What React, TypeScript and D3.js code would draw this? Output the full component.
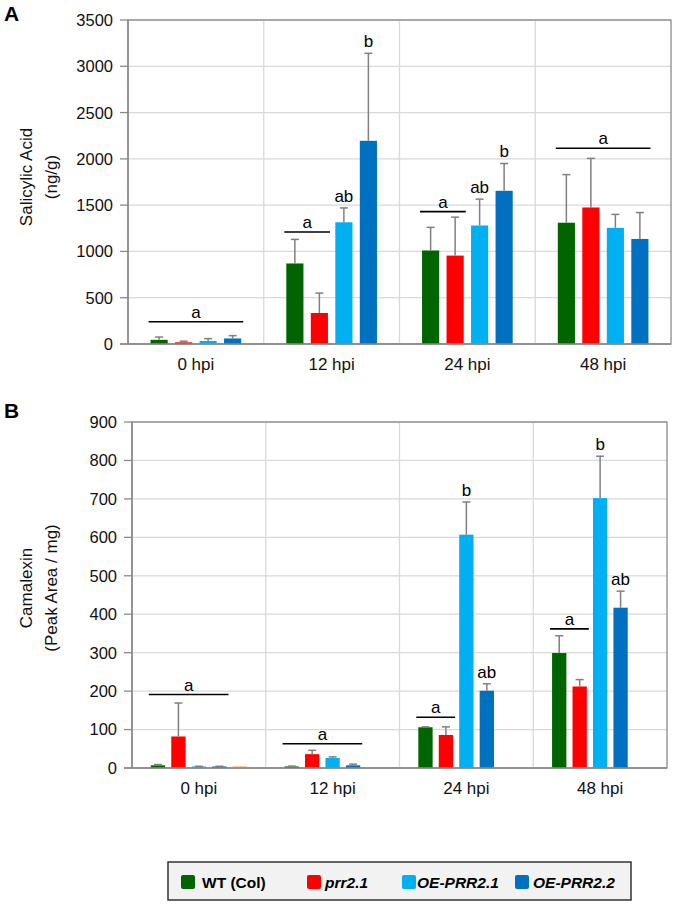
import React from "react";
import * as d3 from "d3";

const groups = ["0 hpi", "12 hpi", "24 hpi", "48 hpi"];
const seriesNames = ["WT (Col)", "prr2.1", "OE-PRR2.1", "OE-PRR2.2"];
const seriesColors = ["#006400", "#ff0000", "#00b0f0", "#0070c0"];
const extraColor = "#f7a35c";

// Panel A: salicylic acid (ng/g)
const saWT = [45, 870, 1010, 1310];
const saPrr = [18, 335, 955, 1475];
const saOE1 = [33, 1315, 1280, 1255];
const saOE2 = [60, 2195, 1655, 1135];
const saWTErr = [30, 260, 250, 520];
const saPrrErr = [12, 215, 415, 530];
const saOE1Err = [25, 155, 285, 145];
const saOE2Err = [30, 945, 295, 285];

// Panel B: camalexin (peak area / mg)
const caWT = [7, 4, 106, 299];
const caPrr = [82, 36, 86, 212];
const caOE1 = [4, 26, 607, 702];
const caOE2 = [4, 7, 201, 417];
const caExtra = [4, 0, 0, 0];
const caWTErr = [2, 1, 1, 45];
const caPrrErr = [87, 10, 21, 18];
const caOE1Err = [0.5, 3, 85, 109];
const caOE2Err = [0.5, 3, 18, 43];
const caExtraErr = [0, 0, 0, 0];

// significance letters: line over bars [from..to] at value y, or letter over a single bar
const saLetters = [
  { g: 0, from: 0, to: 3, y: 240, label: "a" },
  { g: 1, from: 0, to: 1, y: 1210, label: "a" },
  { g: 1, from: 2, to: 2, label: "ab" },
  { g: 1, from: 3, to: 3, label: "b" },
  { g: 2, from: 0, to: 1, y: 1430, label: "a" },
  { g: 2, from: 2, to: 2, label: "ab" },
  { g: 2, from: 3, to: 3, label: "b" },
  { g: 3, from: 0, to: 3, y: 2115, label: "a" },
];
const caLetters = [
  { g: 0, from: 0, to: 3, y: 191, label: "a" },
  { g: 1, from: 0, to: 3, y: 63, label: "a" },
  { g: 2, from: 0, to: 1, y: 132, label: "a" },
  { g: 2, from: 2, to: 2, label: "b" },
  { g: 2, from: 3, to: 3, label: "ab" },
  { g: 3, from: 0, to: 1, y: 362, label: "a" },
  { g: 3, from: 2, to: 2, label: "b" },
  { g: 3, from: 3, to: 3, label: "ab" },
];

const font = "'Liberation Sans', Arial, sans-serif";
const gridColor = "#d9d9d9";
const axisColor = "#8a8a8a";
const errColor = "#808080";

type Letter = { g: number; from: number; to: number; y?: number; label: string };

const Panel = ({
  means,
  errs,
  colors,
  yMax,
  yStep,
  left,
  right,
  top,
  bottom,
  titles,
  titleY,
  letter,
  letterY,
  letters,
  xLabelY,
}: {
  means: number[][];
  errs: number[][];
  colors: string[];
  yMax: number;
  yStep: number;
  left: number;
  right: number;
  top: number;
  bottom: number;
  titles: string[];
  titleY: number;
  letter: string;
  letterY: number;
  letters: Letter[];
  xLabelY: number;
}) => {
  const x0 = d3.scaleBand().domain(groups).range([left, right]).padding(0);
  const x1 = d3
    .scaleBand<number>()
    .domain(d3.range(means.length))
    .range([0, x0.bandwidth()])
    .paddingInner(0.3)
    .paddingOuter(0.92);
  const y = d3.scaleLinear().domain([0, yMax]).range([bottom, top]);
  const ticks = d3.range(0, yMax + 1, yStep);
  const bw = x1.bandwidth();

  return (
    <g fontFamily={font}>
      <text x={4} y={letterY} fontSize={21} fontWeight="bold">
        {letter}
      </text>
      {ticks.map((t) => (
        <g key={t}>
          <line x1={left} x2={right} y1={y(t)} y2={y(t)} stroke={gridColor} strokeWidth={1.3} />
          <line x1={left - 8} x2={left} y1={y(t)} y2={y(t)} stroke={axisColor} strokeWidth={1.3} />
          <text x={left - 15} y={y(t)} dy="0.36em" textAnchor="end" fontSize={16.5} fill="#111">
            {t}
          </text>
        </g>
      ))}
      {groups.slice(1).map((g) => (
        <line key={g} x1={x0(g)} x2={x0(g)} y1={top} y2={bottom} stroke={gridColor} strokeWidth={1.3} />
      ))}
      <rect x={left} y={top} width={right - left} height={bottom - top} fill="none" stroke={axisColor} strokeWidth={1.3} />
      {groups.map((g) => (
        <text key={g} x={x0(g)! + x0.bandwidth() / 2} y={xLabelY} textAnchor="middle" fontSize={17} fill="#111">
          {g}
        </text>
      ))}
      {means.map((vals, si) =>
        vals.map((v, gi) => {
          const bx = x0(groups[gi])! + x1(si)!;
          return (
            <rect key={`${si}-${gi}`} x={bx} y={y(v)} width={bw} height={y(0) - y(v)} fill={colors[si]} />
          );
        })
      )}
      {errs.map((vals, si) =>
        vals.map((e, gi) => {
          if (e <= 0) return null;
          const cx = x0(groups[gi])! + x1(si)! + bw / 2;
          const yt = y(means[si][gi] + e);
          const yb = y(means[si][gi]);
          return (
            <g key={`${si}-${gi}`} stroke={errColor} strokeWidth={1.5}>
              <line x1={cx} x2={cx} y1={yt} y2={yb} />
              <line x1={cx - 4} x2={cx + 4} y1={yt} y2={yt} />
            </g>
          );
        })
      )}
      <line x1={left} x2={left} y1={top} y2={bottom} stroke={axisColor} strokeWidth={1.5} />
      <line x1={left - 8} x2={right} y1={bottom} y2={bottom} stroke={axisColor} strokeWidth={1.5} />
      {letters.map((l, i) => {
        const gx = x0(groups[l.g])!;
        if (l.y !== undefined) {
          const xa = gx + x1(l.from)! - 2;
          const xb = gx + x1(l.to)! + bw + 2;
          return (
            <g key={i}>
              <line x1={xa} x2={xb} y1={y(l.y)} y2={y(l.y)} stroke="#000" strokeWidth={1.6} />
              <text x={(xa + xb) / 2} y={y(l.y) - 4} textAnchor="middle" fontSize={17}>
                {l.label}
              </text>
            </g>
          );
        }
        const cx = gx + x1(l.from)! + bw / 2;
        const top2 = means[l.from][l.g] + errs[l.from][l.g];
        return (
          <text key={i} x={cx} y={y(top2) - 6} textAnchor="middle" fontSize={17}>
            {l.label}
          </text>
        );
      })}
      {titles.map((t, i) => (
        <text
          key={t}
          transform={`translate(${32 + i * 25},${titleY}) rotate(-90)`}
          textAnchor="middle"
          fontSize={17}
          fill="#111"
        >
          {t}
        </text>
      ))}
    </g>
  );
};

const legendX = [181, 307, 402, 515];

export default function App() {
  return (
    <svg width={675} height={905} style={{ position: "absolute", left: 0, top: 0, background: "#fff" }}>
      <Panel
        means={[saWT, saPrr, saOE1, saOE2]}
        errs={[saWTErr, saPrrErr, saOE1Err, saOE2Err]}
        colors={seriesColors}
        yMax={3500}
        yStep={500}
        left={128}
        right={671}
        top={20}
        bottom={344}
        titles={["Salicylic Acid", "(ng/g)"]}
        titleY={177}
        letter="A"
        letterY={21}
        letters={saLetters}
        xLabelY={370}
      />
      <Panel
        means={[caWT, caPrr, caOE1, caOE2, caExtra]}
        errs={[caWTErr, caPrrErr, caOE1Err, caOE2Err, caExtraErr]}
        colors={[...seriesColors, extraColor]}
        yMax={900}
        yStep={100}
        left={132}
        right={667}
        top={422}
        bottom={768}
        titles={["Camalexin", "(Peak Area / mg)"]}
        titleY={588}
        letter="B"
        letterY={418}
        letters={caLetters}
        xLabelY={794}
      />
      <g fontFamily={font}>
        <rect x={168} y={862} width={463} height={38} fill="#f2f2f2" stroke="#333" strokeWidth={1.5} />
        {seriesNames.map((n, i) => (
          <g key={n}>
            <rect x={legendX[i]} y={875} width={14} height={14} rx={2} fill={seriesColors[i]} />
            <text
              x={legendX[i] + (i === 0 ? 21 : i === 2 ? 15 : 18)}
              y={888}
              fontSize={15.5}
              fontWeight="bold"
              fontStyle={i === 0 ? "normal" : "italic"}
            >
              {n}
            </text>
          </g>
        ))}
      </g>
    </svg>
  );
}
